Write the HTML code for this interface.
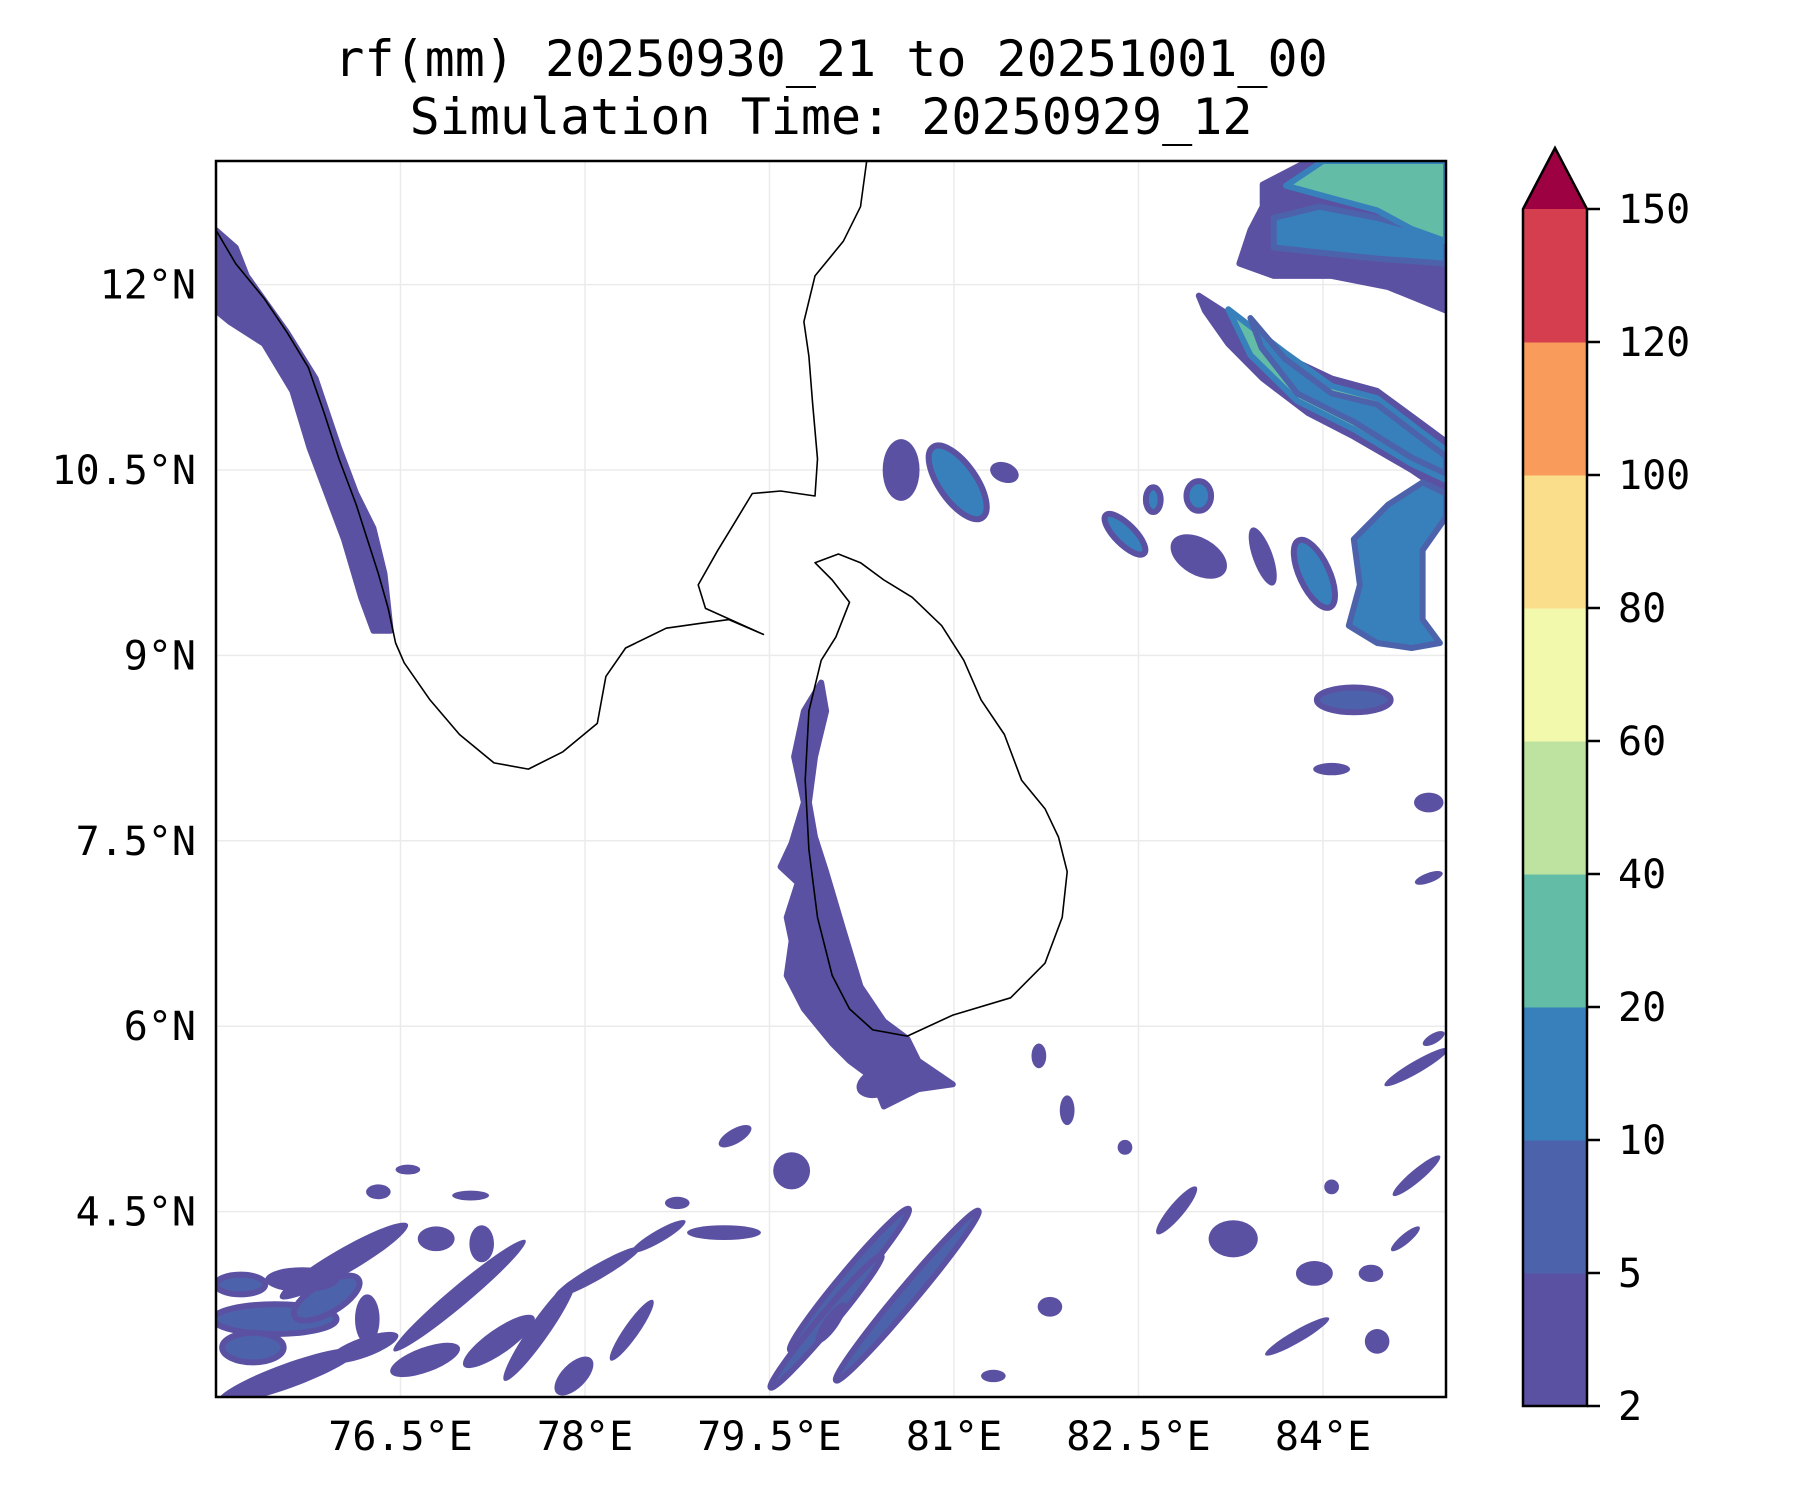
<!DOCTYPE html>
<html><head><meta charset="utf-8"><title>rf chart</title>
<style>
html,body{margin:0;padding:0;background:#fff;}
svg{display:block;font-family:"DejaVu Sans Mono","Liberation Mono",monospace;}
</style></head>
<body>
<svg id="chart" width="1800" height="1500" viewBox="0 0 1800 1500" xmlns="http://www.w3.org/2000/svg">
<text x="831" y="76" font-size="50" text-anchor="middle">rf(mm) 20250930_21 to 20251001_00</text>
<text x="831" y="134" font-size="50" text-anchor="middle">Simulation Time: 20250929_12</text>
<defs><clipPath id="clip"><rect x="216" y="161" width="1230" height="1236"/></clipPath></defs>
<g id="grid"></g>
<g id="rain" clip-path="url(#clip)"></g>
<g id="coast" clip-path="url(#clip)"></g>
<rect x="216" y="161" width="1230" height="1236" fill="none" stroke="#000" stroke-width="2.5"/>
<g id="axes"></g>
<g id="cbar"></g>
</svg>
<script>
const lonTicks = [76.5, 78, 79.5, 81, 82.5, 84];
const lonTickLabels = ["76.5°E","78°E","79.5°E","81°E","82.5°E","84°E"];
const latTicks = [12, 10.5, 9, 7.5, 6, 4.5];
const latTickLabels = ["12°N","10.5°N","9°N","7.5°N","6°N","4.5°N"];
const cbarLevels = [2,5,10,20,40,60,80,100,120,150];
const cbarColors = ["#5b51a3","#4c63ac","#3880bb","#62bca6","#bee3a0","#f2f9ad","#fbde8b","#f99c5b","#d53e4f"];
const extendColor = "#9e0142";

const indiaLon = [75.00,75.16,75.39,75.58,75.75,75.88,76.00,76.14,76.23,76.32,76.40,76.46,76.53,76.74,76.98,77.26,77.54,77.82,78.10,78.17,78.33,78.66,78.94,79.17,79.45,78.98,78.92,79.08,79.22,79.36,79.59,79.87,79.89,79.85,79.82,79.78,79.87,80.10,80.24,80.29];
const indiaLat = [12.44,12.17,11.89,11.61,11.33,10.96,10.59,10.22,9.94,9.66,9.38,9.10,8.94,8.64,8.36,8.13,8.08,8.22,8.45,8.83,9.06,9.22,9.26,9.29,9.17,9.38,9.57,9.85,10.08,10.31,10.33,10.29,10.59,11.05,11.42,11.70,12.07,12.35,12.63,13.00];
const lankaLon = [79.87,80.06,80.24,80.43,80.66,80.90,81.08,81.22,81.41,81.55,81.74,81.85,81.92,81.88,81.74,81.46,80.99,80.62,80.34,80.15,80.01,79.89,79.82,79.79,79.82,79.92,80.04,80.15,80.01];
const lankaLat = [9.75,9.82,9.75,9.61,9.47,9.24,8.96,8.64,8.36,7.99,7.76,7.53,7.25,6.88,6.51,6.23,6.09,5.92,5.97,6.14,6.41,6.88,7.43,7.99,8.55,8.96,9.15,9.43,9.61];

const polyLevels = [0,0,0,3,0,2,3,2,2];
const polyLons = [
 [75.00,75.16,75.25,75.58,75.81,76.00,76.14,76.28,76.37,76.42,76.28,76.18,76.04,75.90,75.76,75.62,75.39,75.11,75.00],
 [79.92,79.96,79.87,79.82,79.87,79.96,80.10,80.24,80.43,80.62,80.71,80.99,80.71,80.43,80.34,80.15,80.01,79.78,79.64,79.68,79.64,79.73,79.59,79.68,79.78,79.70,79.78],
 [82.99,83.32,83.69,84.07,84.44,84.81,85.00,85.00,84.72,84.25,83.88,83.51,83.23,83.04],
 [83.23,83.69,84.07,84.44,84.81,85.00,85.00,84.72,84.25,83.79,83.41],
 [83.51,83.88,85.00,85.00,84.53,84.07,83.60,83.32,83.41,83.51],
 [83.60,83.97,84.44,84.81,85.00,85.00,84.44,83.97,83.60],
 [84.00,85.00,85.00,84.72,84.44,84.07,83.70],
 [83.41,83.69,84.07,84.44,84.81,85.00,85.00,84.72,84.25,83.79,83.50],
 [84.25,84.53,84.81,85.00,85.00,84.81,84.81,84.95,84.72,84.44,84.21,84.30]
];
const polyLats = [
 [12.44,12.30,12.07,11.61,11.24,10.68,10.31,10.03,9.66,9.20,9.20,9.47,9.94,10.31,10.68,11.14,11.52,11.70,11.79],
 [8.78,8.55,8.18,7.81,7.53,7.25,6.78,6.32,6.04,5.90,5.72,5.53,5.49,5.35,5.58,5.72,5.86,6.14,6.41,6.69,6.88,7.16,7.29,7.48,7.81,8.18,8.55],
 [11.91,11.70,11.42,11.24,11.14,10.87,10.73,10.31,10.50,10.77,10.96,11.24,11.52,11.79],
 [11.80,11.45,11.18,11.08,10.80,10.66,10.42,10.55,10.83,11.06,11.43],
 [12.81,13.00,13.00,11.79,11.98,12.07,12.07,12.17,12.44,12.63],
 [12.54,12.63,12.54,12.44,12.35,12.17,12.21,12.26,12.30],
 [13.00,13.00,12.35,12.45,12.60,12.70,12.80],
 [11.73,11.40,11.12,11.03,10.75,10.61,10.47,10.60,10.89,11.12,11.49],
 [9.94,10.22,10.40,10.31,10.12,9.85,9.29,9.10,9.06,9.10,9.24,9.57]
];
const cellLon = [80.57,81.03,81.41,82.39,82.62,82.99,82.99,83.51,83.93,84.25,84.07,84.86,84.86,81.69,81.92,80.15,80.62,79.96,77.63,76.98,76.04,75.48,75.58,78.10,79.22,79.68,79.13,78.75,77.16,76.79,76.32,76.56,77.07,76.23,77.91,81.78,82.81,83.27,83.93,84.39,84.76,84.76,84.90,84.07,83.79,82.39,81.32,84.44,84.67,75.20,78.38,80.40,75.30,75.90,76.70,77.30,75.70,76.20,78.60,80.00];
const cellLat = [10.50,10.40,10.48,9.98,10.26,10.29,9.80,9.80,9.66,8.64,8.08,7.81,7.20,5.76,5.32,3.95,3.82,3.61,3.54,3.82,4.10,3.63,3.17,4.01,5.11,4.83,4.33,4.57,4.24,4.28,4.66,4.84,4.63,3.63,3.17,3.73,4.51,4.28,4.00,4.00,4.79,5.67,5.90,4.70,3.49,5.02,3.17,3.45,4.28,3.91,3.54,5.55,3.40,3.80,3.30,3.45,3.95,3.40,4.30,3.60];
const cellRx = [0.15,0.35,0.12,0.22,0.06,0.10,0.25,0.25,0.30,0.30,0.15,0.12,0.12,0.06,0.06,0.75,0.90,0.70,0.50,0.70,0.60,0.50,0.60,0.40,0.15,0.15,0.30,0.10,0.10,0.15,0.10,0.10,0.15,0.10,0.20,0.10,0.25,0.20,0.15,0.10,0.25,0.30,0.10,0.06,0.30,0.06,0.10,0.10,0.15,0.20,0.30,0.20,0.25,0.30,0.30,0.35,0.30,0.30,0.25,0.20];
const cellRy = [0.25,0.15,0.08,0.08,0.10,0.12,0.15,0.08,0.12,0.10,0.05,0.08,0.04,0.10,0.12,0.07,0.07,0.06,0.08,0.08,0.10,0.12,0.10,0.06,0.06,0.15,0.06,0.05,0.15,0.10,0.06,0.04,0.04,0.20,0.10,0.08,0.06,0.15,0.10,0.07,0.05,0.05,0.04,0.06,0.05,0.06,0.05,0.10,0.04,0.08,0.06,0.12,0.12,0.12,0.10,0.10,0.10,0.08,0.05,0.06];
const cellRot = [0,55,20,45,0,0,30,70,65,0,0,0,-20,0,0,-50,-50,-50,-55,-40,-30,0,-20,-30,-30,0,0,0,0,0,0,0,0,0,-45,0,-50,0,0,0,-40,-30,-30,0,-30,0,0,0,-40,0,-55,-20,0,-30,-20,-35,0,-20,-30,-55];
const cellLevel = [0,2,0,2,2,2,0,0,2,1,0,0,0,0,0,1,1,1,0,0,0,1,0,0,0,0,0,0,0,0,0,0,0,0,0,0,0,0,0,0,0,0,0,0,0,0,0,0,0,1,0,0,1,1,0,0,0,0,0,0];

const NS = "http://www.w3.org/2000/svg";
const X0=216, X1=1446, Y0=161, Y1=1397;
const xOf = lon => X0 + (lon-75)/10*(X1-X0);
const yOf = lat => Y0 + (13-lat)/10*(Y1-Y0);
const pxPerLon = (X1-X0)/10, pxPerLat = (Y1-Y0)/10;
function mk(tag, parent){ const e=document.createElementNS(NS,tag); parent.appendChild(e); return e; }

const grid=document.getElementById('grid');
lonTicks.forEach(v=>{ const l=mk('line',grid);
 
 
 l.setAttribute('x1',xOf(v));l.setAttribute('x2',xOf(v));l.setAttribute('y1',Y0);l.setAttribute('y2',Y1);l.setAttribute('stroke','#ebebeb');l.setAttribute('stroke-width','1.5');});
latTicks.forEach(v=>{ const l=mk('line',grid);
 
 
 l.setAttribute('x1',X0);l.setAttribute('x2',X1);l.setAttribute('y1',yOf(v));l.setAttribute('y2',yOf(v));l.setAttribute('stroke','#ebebeb');l.setAttribute('stroke-width','1.5');});

const rain=document.getElementById('rain');
polyLevels.forEach((lv,i)=>{ const p=mk('polygon',rain);
 
 
 p.setAttribute('points',polyLons[i].map((lo,j)=>xOf(lo).toFixed(1)+','+yOf(polyLats[i][j]).toFixed(1)).join(' '));
 p.setAttribute('fill',cbarColors[lv]); p.setAttribute('stroke',cbarColors[Math.max(0,lv-1)]); p.setAttribute('stroke-width','6'); p.setAttribute('stroke-linejoin','round');});
cellLon.forEach((lo,i)=>{ const e=mk('ellipse',rain);
 
 
 const cx=xOf(lo), cy=yOf(cellLat[i]);
 e.setAttribute('cx',cx);e.setAttribute('cy',cy);e.setAttribute('rx',cellRx[i]*pxPerLon);e.setAttribute('ry',cellRy[i]*pxPerLat);
 e.setAttribute('transform','rotate('+cellRot[i]+' '+cx+' '+cy+')');
 e.setAttribute('fill',cbarColors[cellLevel[i]]);
 if(cellLevel[i]>0){e.setAttribute('stroke',cbarColors[0]);e.setAttribute('stroke-width','6');}});

const coast=document.getElementById('coast');
[[indiaLon,indiaLat,false,'india-coastline'],[lankaLon,lankaLat,true,'sri-lanka-coastline']].forEach(c=>{
 const p=mk(c[2]?'polygon':'polyline',coast);
 
 
 p.setAttribute('points',c[0].map((lo,j)=>xOf(lo).toFixed(1)+','+yOf(c[1][j]).toFixed(1)).join(' '));
 p.setAttribute('fill','none');p.setAttribute('stroke','#000');p.setAttribute('stroke-width','1.6');p.setAttribute('stroke-linejoin','round');});

const axes=document.getElementById('axes');
lonTicks.forEach((v,i)=>{ const t=mk('text',axes);
 
 
 t.setAttribute('x',xOf(v));t.setAttribute('y',1450);t.setAttribute('font-size','40');t.setAttribute('text-anchor','middle');t.textContent=lonTickLabels[i];});
latTicks.forEach((v,i)=>{ const t=mk('text',axes);
 
 
 t.setAttribute('x',196);t.setAttribute('y',yOf(v)+14);t.setAttribute('font-size','40');t.setAttribute('text-anchor','end');t.textContent=latTickLabels[i];});

const cb=document.getElementById('cbar');
const CX0=1523, CX1=1587, CT=209, CB=1406, APEX=148;
const segH=(CB-CT)/(cbarLevels.length-1);
cbarColors.forEach((c,i)=>{ const r=mk('rect',cb);
 
 
 r.setAttribute('x',CX0);r.setAttribute('y',CB-(i+1)*segH);r.setAttribute('width',CX1-CX0);r.setAttribute('height',segH+0.5);r.setAttribute('fill',c);});
const tri=mk('polygon',cb);


tri.setAttribute('points',CX0+','+CT+' '+(CX0+CX1)/2+','+APEX+' '+CX1+','+CT);tri.setAttribute('fill',extendColor);
const out=mk('polygon',cb);


out.setAttribute('points',CX0+','+CB+' '+CX0+','+CT+' '+(CX0+CX1)/2+','+APEX+' '+CX1+','+CT+' '+CX1+','+CB);out.setAttribute('fill','none');out.setAttribute('stroke','#000');out.setAttribute('stroke-width','2.5');
cbarLevels.forEach((v,i)=>{ const y=CB-i*segH;
 const l=mk('line',cb);
 
 
 l.setAttribute('x1',CX1);l.setAttribute('x2',CX1+13);l.setAttribute('y1',y);l.setAttribute('y2',y);l.setAttribute('stroke','#000');l.setAttribute('stroke-width','2.5');
 const t=mk('text',cb);
 
 
 t.setAttribute('x',1618);t.setAttribute('y',y+14);t.setAttribute('font-size','40');t.textContent=v;});
</script>
</body></html>
